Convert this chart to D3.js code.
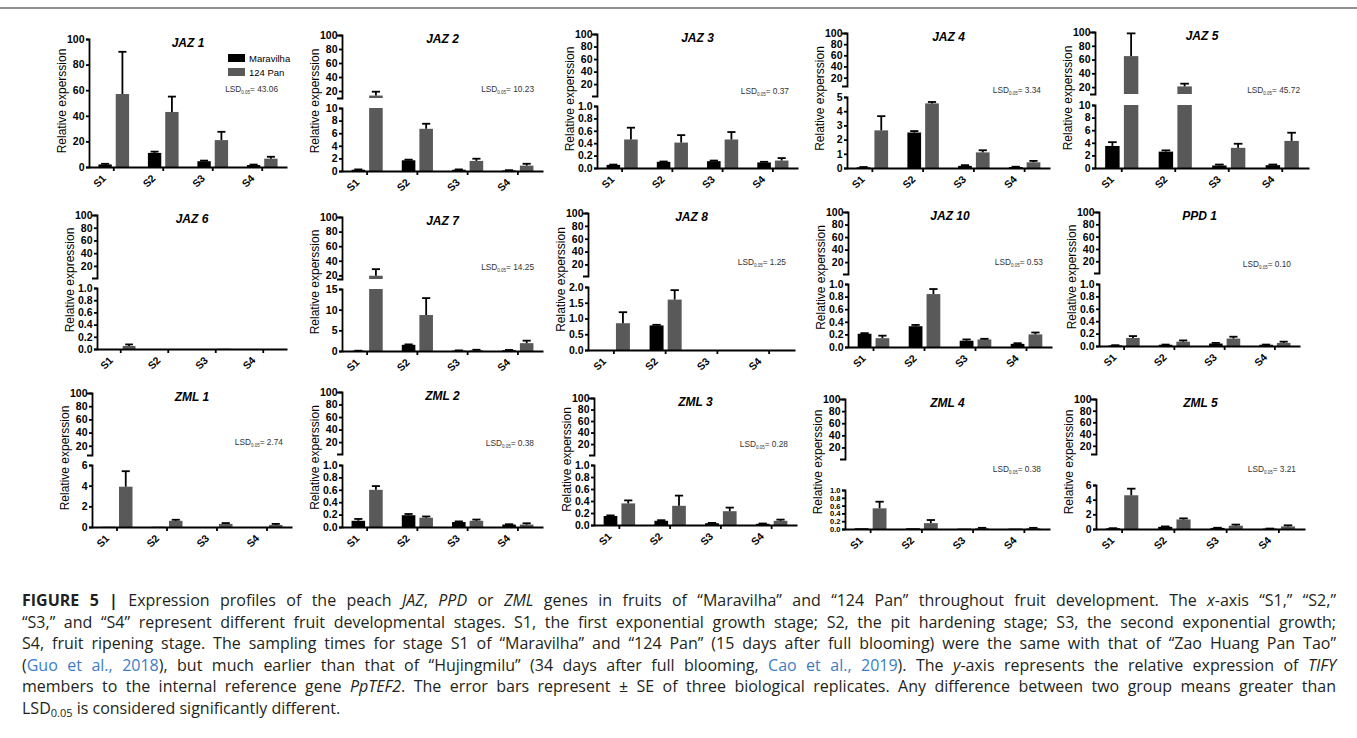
<!DOCTYPE html>
<html>
<head>
<meta charset="utf-8">
<script src="https://cdn.jsdelivr.net/npm/d3@7"></script>
<style>
body { margin: 0; background: #fff; }
#chart-area { position: relative; width: 1357px; height: 738px; overflow: hidden; }
svg { position: absolute; left: 0; top: 0; }
svg text { font-family: "Liberation Sans", Arial, sans-serif; }
.caption { position: absolute; left: 22px; top: 590px; width: 1314px;
  font-family: "Open Sans", "Liberation Sans", sans-serif; font-size: 16px; color: #231f20; }
.caption div { white-space: nowrap; height: 21.6px; line-height: 21.6px; }
.caption .ref { color: #3c7dc4; }
.caption sub { font-size: 11px; vertical-align: -3px; line-height: 0; }
</style>
</head>
<body>
<div id="chart-area"></div>
<script>
/*
*    figure 5 - TIFY expression in peach fruit
*/

var stages = ["S1", "S2", "S3", "S4"];
var series = ["Maravilha", "124 Pan"];
var genes = ["JAZ 1", "JAZ 2", "JAZ 3", "JAZ 4", "JAZ 5",
             "JAZ 6", "JAZ 7", "JAZ 8", "JAZ 10", "PPD 1",
             "ZML 1", "ZML 2", "ZML 3", "ZML 4", "ZML 5"];

// means and SE (upper error bar) for S1..S4
var maravilhaMean = [
  [2, 11, 4.5, 1.5], [0.2, 1.7, 0.2, 0.1], [0.05, 0.1, 0.11, 0.09], [0.05, 2.5, 0.15, 0.07], [3.5, 2.6, 0.4, 0.45],
  [0, 0, 0, 0], [0.05, 1.5, 0.1, 0.2], [0, 0.78, 0, 0], [0.21, 0.33, 0.1, 0.05], [0.01, 0.02, 0.04, 0.02],
  [0.02, 0.02, 0, 0], [0.1, 0.19, 0.08, 0.04], [0.15, 0.07, 0.03, 0.02], [0.02, 0.02, 0.01, 0.01], [0.1, 0.3, 0.15, 0.05]
];
var maravilhaSE = [
  [0.5, 1, 0.5, 0.4], [0.05, 0.1, 0.05, 0.03], [0.005, 0.005, 0.01, 0.01], [0.02, 0.1, 0.05, 0.02], [0.6, 0.2, 0.15, 0.1],
  [0, 0, 0, 0], [0.02, 0.1, 0.05, 0.05], [0, 0.02, 0, 0], [0.01, 0.02, 0.02, 0.01], [0.003, 0.003, 0.01, 0.003],
  [0, 0, 0, 0], [0.03, 0.02, 0.01, 0.005], [0.01, 0.01, 0.005, 0.005], [0, 0, 0, 0], [0.01, 0.05, 0.02, 0.01]
];
var panMean = [
  [57, 43, 21, 6.5], [13.5, 6.7, 1.6, 0.85], [0.46, 0.41, 0.46, 0.12], [2.65, 4.55, 1.1, 0.4], [65, 21, 3.2, 4.3],
  [0.05, 0, 0.005, 0], [19.5, 8.7, 0.2, 1.9], [0.85, 1.6, 0, 0], [0.14, 0.84, 0.12, 0.2], [0.13, 0.07, 0.12, 0.05],
  [3.9, 0.6, 0.3, 0.2], [0.6, 0.15, 0.1, 0.04], [0.36, 0.32, 0.23, 0.07], [0.53, 0.15, 0.02, 0.02], [4.6, 1.3, 0.45, 0.35]
];
var panSE = [
  [33, 12, 6.5, 1.5], [5.5, 0.8, 0.35, 0.3], [0.19, 0.12, 0.12, 0.04], [1.0, 0.1, 0.15, 0.1], [33, 4, 0.65, 1.3],
  [0.025, 0, 0, 0], [9, 4.1, 0.1, 0.6], [0.35, 0.3, 0, 0], [0.04, 0.08, 0.01, 0.03], [0.03, 0.02, 0.03, 0.02],
  [1.5, 0.1, 0.08, 0.1], [0.06, 0.02, 0.02, 0.02], [0.05, 0.17, 0.06, 0.02], [0.17, 0.08, 0.01, 0.01], [0.9, 0.15, 0.15, 0.15]
];
var lsd = ["43.06", "10.23", "0.37", "3.34", "45.72",
           null, "14.25", " 1.25", " 0.53", " 0.10",
           "2.74", "0.38", "0.28", " 0.38", "3.21"];

// lower axis segment: max and tick step (100 = no break)
var lowerMax  = [100, 10, 1, 5, 10, 1, 15, 2, 1, 1, 6, 1, 1, 1, 6];
var lowerStep = [20, 2, 0.2, 1, 2, 0.2, 5, 0.5, 0.2, 0.2, 2, 0.2, 0.2, 0.2, 2];
var upperTicks = [20, 40, 60, 80, 100];

var captionLines = [
  "<b>FIGURE 5 |</b> Expression profiles of the peach <i>JAZ</i>, <i>PPD</i> or <i>ZML</i> genes in fruits of \u201cMaravilha\u201d and \u201c124 Pan\u201d throughout fruit development. The <i>x</i>-axis \u201cS1,\u201d \u201cS2,\u201d",
  "\u201cS3,\u201d and \u201cS4\u201d represent different fruit developmental stages. S1, the first exponential growth stage; S2, the pit hardening stage; S3, the second exponential growth;",
  "S4, fruit ripening stage. The sampling times for stage S1 of \u201cMaravilha\u201d and \u201c124 Pan\u201d (15 days after full blooming) were the same with that of \u201cZao Huang Pan Tao\u201d",
  "(<span class='ref'>Guo et al., 2018</span>), but much earlier than that of \u201cHujingmilu\u201d (34 days after full blooming, <span class='ref'>Cao et al., 2019</span>). The <i>y</i>-axis represents the relative expression of <i>TIFY</i>",
  "members to the internal reference gene <i>PpTEF2</i>. The error bars represent \u00b1 SE of three biological replicates. Any difference between two group means greater than",
  "LSD<sub>0.05</sub> is considered significantly different."
];

// panel frames (axis start/end, top, bottom, break)
var layout = [
  {x0: 89,   x1: 287,  top: 39,  bot: 167, uBot: 0,   lTop: 0,   lsdY: 92},
  {x0: 342,  x1: 543,  top: 35,  bot: 171, uBot: 98,  lTop: 108, lsdY: 92},
  {x0: 597,  x1: 798,  top: 34,  bot: 168, uBot: 96,  lTop: 106, lsdY: 94},
  {x0: 847,  x1: 1050, top: 33,  bot: 168, uBot: 86,  lTop: 97,  lsdY: 93},
  {x0: 1095, x1: 1309, top: 32,  bot: 168, uBot: 94,  lTop: 105, lsdY: 93},
  {x0: 97,   x1: 287,  top: 215, bot: 349, uBot: 278, lTop: 288, lsdY: 268},
  {x0: 342,  x1: 543,  top: 217, bot: 351, uBot: 279, lTop: 289, lsdY: 270},
  {x0: 588,  x1: 795,  top: 213, bot: 350, uBot: 276, lTop: 287, lsdY: 265},
  {x0: 848,  x1: 1052, top: 212, bot: 347, uBot: 274, lTop: 284, lsdY: 265},
  {x0: 1099, x1: 1300, top: 212, bot: 346, uBot: 273, lTop: 284, lsdY: 267},
  {x0: 92,   x1: 292,  top: 393, bot: 527, uBot: 455, lTop: 465, lsdY: 445},
  {x0: 342,  x1: 543,  top: 392, bot: 527, uBot: 454, lTop: 465, lsdY: 446},
  {x0: 594,  x1: 797,  top: 398, bot: 525, uBot: 455, lTop: 465, lsdY: 447},
  {x0: 845,  x1: 1050, top: 399, bot: 529, uBot: 459, lTop: 490, lsdY: 472},
  {x0: 1096, x1: 1305, top: 399, bot: 529, uBot: 454, lTop: 485, lsdY: 472}
];

var width = 1357, height = 738;
var svg = d3.select("#chart-area").append("svg")
    .attr("width", width)
    .attr("height", height);

// frame line on top
svg.append("line")
    .attr("x1", 0).attr("x2", width)
    .attr("y1", 8).attr("y2", 8)
    .attr("stroke", "#6d6d6d")
    .attr("stroke-width", 1.5);

function styleAxis(sel, size) {
  sel.selectAll("path, line").attr("stroke", "#000").attr("stroke-width", 1.8);
  sel.selectAll("text")
      .attr("fill", "#000")
      .attr("font-size", (size || 10.5) + "px")
      .attr("font-weight", "bold");
}

genes.forEach((gene, i) => {
  var L = layout[i];
  var max = lowerMax[i];
  var split = max < 100;
  var g = svg.append("g").attr("class", "panel");

  var x = d3.scaleBand().domain(stages).range([L.x0, L.x1]);
  var yLow = d3.scaleLinear().domain([0, max]).range([L.bot, split ? L.lTop : L.top]);
  var yUp = split ? d3.scaleLinear().domain([max, 100]).range([L.uBot, L.top]) : null;

  // value interval -> list of [yTop, yBottom] pieces
  function pieces(a, b) {
    if (!split || b <= max) return [[yLow(b), yLow(a)]];
    if (a >= max) return [[yUp(b), yUp(a)]];
    return [[L.lTop, yLow(a)], [yUp(b), L.uBot]];
  }
  function yOf(v) { return (split && v > max) ? yUp(v) : yLow(v); }

  var bw = x.bandwidth() * 0.27, gap = x.bandwidth() * 0.08;
  var groups = [
    {mean: maravilhaMean[i], se: maravilhaSE[i], fill: "#000", dx: -gap / 2 - bw},
    {mean: panMean[i], se: panSE[i], fill: "#595959", dx: gap / 2}
  ];

  groups.forEach((s) => {
    stages.forEach((st, k) => {
      var v = s.mean[k], e = v + s.se[k];
      var bx = x(st) + x.bandwidth() / 2 + s.dx;
      if (v > 0) {
        pieces(0, v).forEach((p) => {
          g.append("rect")
              .attr("x", bx).attr("width", bw)
              .attr("y", p[0]).attr("height", Math.max(0.8, p[1] - p[0]))
              .attr("fill", s.fill);
        });
      }
      if (s.se[k] > 0) {
        var cx = bx + bw / 2;
        pieces(v, e).forEach((p) => {
          g.append("line")
              .attr("x1", cx).attr("x2", cx)
              .attr("y1", p[0]).attr("y2", p[1])
              .attr("stroke", "#000").attr("stroke-width", 1.8);
        });
        g.append("line")
            .attr("x1", cx - bw * 0.3).attr("x2", cx + bw * 0.3)
            .attr("y1", yOf(e)).attr("y2", yOf(e))
            .attr("stroke", "#000").attr("stroke-width", 1.8);
      }
    });
  });

  // axes
  var n = Math.round(max / lowerStep[i]);
  var lowTicks = d3.range(0, n + 1).map((d) => d * lowerStep[i]);
  var fmt = lowerStep[i] < 1 ? d3.format(".1f") : d3.format("d");
  var lowSpacing = (L.bot - (split ? L.lTop : L.top)) / n;

  g.append("g")
      .attr("transform", "translate(" + L.x0 + ",0)")
      .call(d3.axisLeft(yLow).tickValues(lowTicks).tickFormat(fmt)
          .tickSize(3).tickSizeOuter(3).tickPadding(1.5))
      .call(styleAxis, Math.min(10.5, lowSpacing - 0.2));

  if (split) {
    g.append("g")
        .attr("transform", "translate(" + L.x0 + ",0)")
        .call(d3.axisLeft(yUp).tickValues(upperTicks).tickFormat(d3.format("d"))
            .tickSize(3).tickSizeOuter(5).tickPadding(1.5))
        .call(styleAxis);
  }

  var xAxis = g.append("g")
      .attr("transform", "translate(0," + L.bot + ")")
      .call(d3.axisBottom(x).tickSize(4).tickSizeOuter(0))
      .call(styleAxis);
  xAxis.selectAll("text")
      .attr("y", 0).attr("dy", 0)
      .attr("text-anchor", "end")
      .attr("transform", "translate(-7,12) rotate(-45)");

  // y label
  g.append("text")
      .attr("transform", "translate(" + (L.x0 - 23) + "," + ((L.top + L.bot) / 2 - 2) + ") rotate(-90)")
      .attr("text-anchor", "middle")
      .attr("font-size", "12px")
      .attr("fill", "#000")
      .text(gene === "JAZ 6" ? "Relative expression" : "Relative experssion");

  // title
  g.append("text")
      .attr("x", (L.x0 + L.x1) / 2)
      .attr("y", L.top + 8)
      .attr("text-anchor", "middle")
      .attr("font-size", "12px")
      .attr("font-weight", "bold")
      .attr("font-style", "italic")
      .text(gene);

  // LSD note
  if (lsd[i]) {
    var t = g.append("text")
        .attr("x", L.x1 - 9)
        .attr("y", L.lsdY)
        .attr("text-anchor", "end")
        .attr("font-size", "8.3px")
        .attr("fill", "#333");
    t.append("tspan").text("LSD");
    t.append("tspan").attr("font-size", "4.5px").attr("dy", 2).text("0.05");
    t.append("tspan").attr("dy", -2).text("= " + lsd[i]);
  }

  // legend only in the first panel
  if (i === 0) {
    var leg = g.append("g")
        .attr("transform", "translate(" + (L.x1 - 59) + "," + (L.top + 15) + ")");
    series.forEach((name, k) => {
      leg.append("rect")
          .attr("x", 0).attr("y", k * 14)
          .attr("width", 17).attr("height", 8)
          .attr("fill", k === 0 ? "#000" : "#595959");
      leg.append("text")
          .attr("x", 21).attr("y", k * 14 + 7.5)
          .attr("font-size", "9.5px")
          .text(name);
    });
  }
});

// caption, justified line by line
var cap = d3.select("#chart-area").append("div").attr("class", "caption");
captionLines.forEach((html, k) => {
  var line = cap.append("div");
  var span = line.append("span").html(html);
  if (k < captionLines.length - 1) {
    var w = span.node().getBoundingClientRect().width;
    var spaces = span.text().split(" ").length - 1;
    span.style("word-spacing", ((1314 - w) / spaces) + "px");
  }
});
</script>
</body>
</html>
